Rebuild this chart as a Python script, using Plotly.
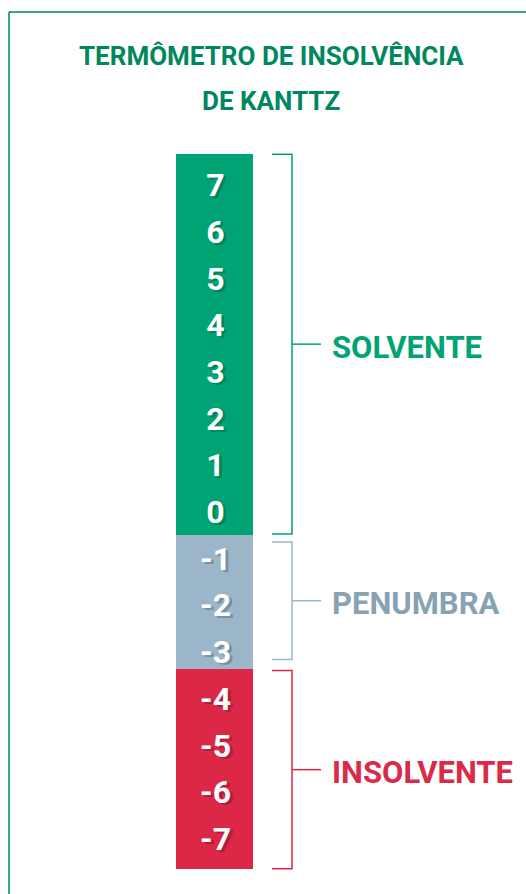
import plotly.graph_objects as go

# ---- data ----
title_lines = ["TERMÔMETRO DE INSOLVÊNCIA", "DE KANTTZ"]
zone_names = ["SOLVENTE", "PENUMBRA", "INSOLVENTE"]
zone_values = [
    [7, 6, 5, 4, 3, 2, 1, 0],
    [-1, -2, -3],
    [-4, -5, -6, -7],
]
zone_hi = [7.68, -0.47, -3.35]
zone_lo = [-0.47, -3.35, -7.62]

# ---- styles ----
bar_colors = ["#00A373", "#9AB6C8", "#DC2747"]
shadow_colors = ["#00855C", "#7A92A3", "#B01F39"]
label_colors = ["#00A373", "#87A2B3", "#DB2A48"]
title_color = "#00875F"
FONT = "Roboto, Liberation Sans, sans-serif"

W, H = 526, 894
PX_PER_UNIT = 46.7
ZERO_PX = 513
y_top = ZERO_PX / PX_PER_UNIT
y_bot = -(H - ZERO_PX) / PX_PER_UNIT


def px2y(p):
    return (ZERO_PX - p) / PX_PER_UNIT


def dy(px):
    return px / PX_PER_UNIT


BAR_X0, BAR_X1 = 176, 253
bar_cx = (BAR_X0 + BAR_X1) / 2

fig = go.Figure()

for i, name in enumerate(zone_names):
    fig.add_trace(go.Bar(
        x=[bar_cx], y=[zone_hi[i] - zone_lo[i]], base=[zone_lo[i]],
        width=BAR_X1 - BAR_X0, marker=dict(color=bar_colors[i], line=dict(width=0)),
        hoverinfo="skip", showlegend=False,
    ))

for i, vals in enumerate(zone_values):
    labels = [str(v) for v in vals]
    fig.add_trace(go.Scatter(
        x=[bar_cx + 1] * len(vals), y=[v - dy(2) for v in vals],
        mode="text", text=labels, textposition="middle center",
        textfont=dict(family=FONT, size=32, color="white", weight="bold",
                      shadow=f"3px 2px 0px {shadow_colors[i]}"),
        hoverinfo="skip", showlegend=False,
    ))

# brackets
insets = [(0, 1), (7, 10), (1, 0)]
BR_X0, BR_X1, BR_MID = 272, 292, 321
for i, name in enumerate(zone_names):
    top = zone_hi[i] - dy(insets[i][0])
    bot = zone_lo[i] + dy(insets[i][1])
    mid = (top + bot) / 2
    c = bar_colors[i]
    path = f"M {BR_X0},{top} L {BR_X1},{top} L {BR_X1},{bot} L {BR_X0},{bot}"
    fig.add_shape(type="path", path=path, xref="x", yref="y",
                  line=dict(color=c, width=1.5))
    fig.add_shape(type="line", x0=BR_X1, x1=BR_MID, y0=mid, y1=mid,
                  xref="x", yref="y", line=dict(color=c, width=1.5))
    fig.add_annotation(x=BR_MID + 9, y=mid - dy(3), text=f"<b>{name}</b>", showarrow=False,
                       xanchor="left", yanchor="middle", xref="x", yref="y",
                       font=dict(family=FONT, size=31, color=label_colors[i]))

# title (two lines)
for line, ypx in zip(title_lines, [56, 101]):
    fig.add_annotation(x=271, y=px2y(ypx), text=f"<b>{line}</b>",
                       showarrow=False, xref="x", yref="y", xanchor="center", yanchor="middle",
                       font=dict(family=FONT, size=26, color=title_color))

# frame
fig.add_shape(type="line", xref="paper", yref="paper", x0=9 / W, x1=9 / W, y0=0, y1=1 - 12 / H,
              line=dict(color=title_color, width=1.5))
fig.add_shape(type="line", xref="paper", yref="paper", x0=9 / W, x1=1, y0=1 - 12 / H, y1=1 - 12 / H,
              line=dict(color=title_color, width=1.5))

fig.update_layout(
    width=W, height=H, margin=dict(l=0, r=0, t=0, b=0),
    paper_bgcolor="white", plot_bgcolor="white",
    xaxis=dict(range=[0, W], visible=False, fixedrange=True),
    yaxis=dict(range=[y_bot, y_top], visible=False, fixedrange=True),
    barmode="overlay", bargap=0,
)

fig.write_html("out.html", config={"displayModeBar": False},
               post_script="document.body.style.margin='0px';document.body.style.overflow='hidden';")
